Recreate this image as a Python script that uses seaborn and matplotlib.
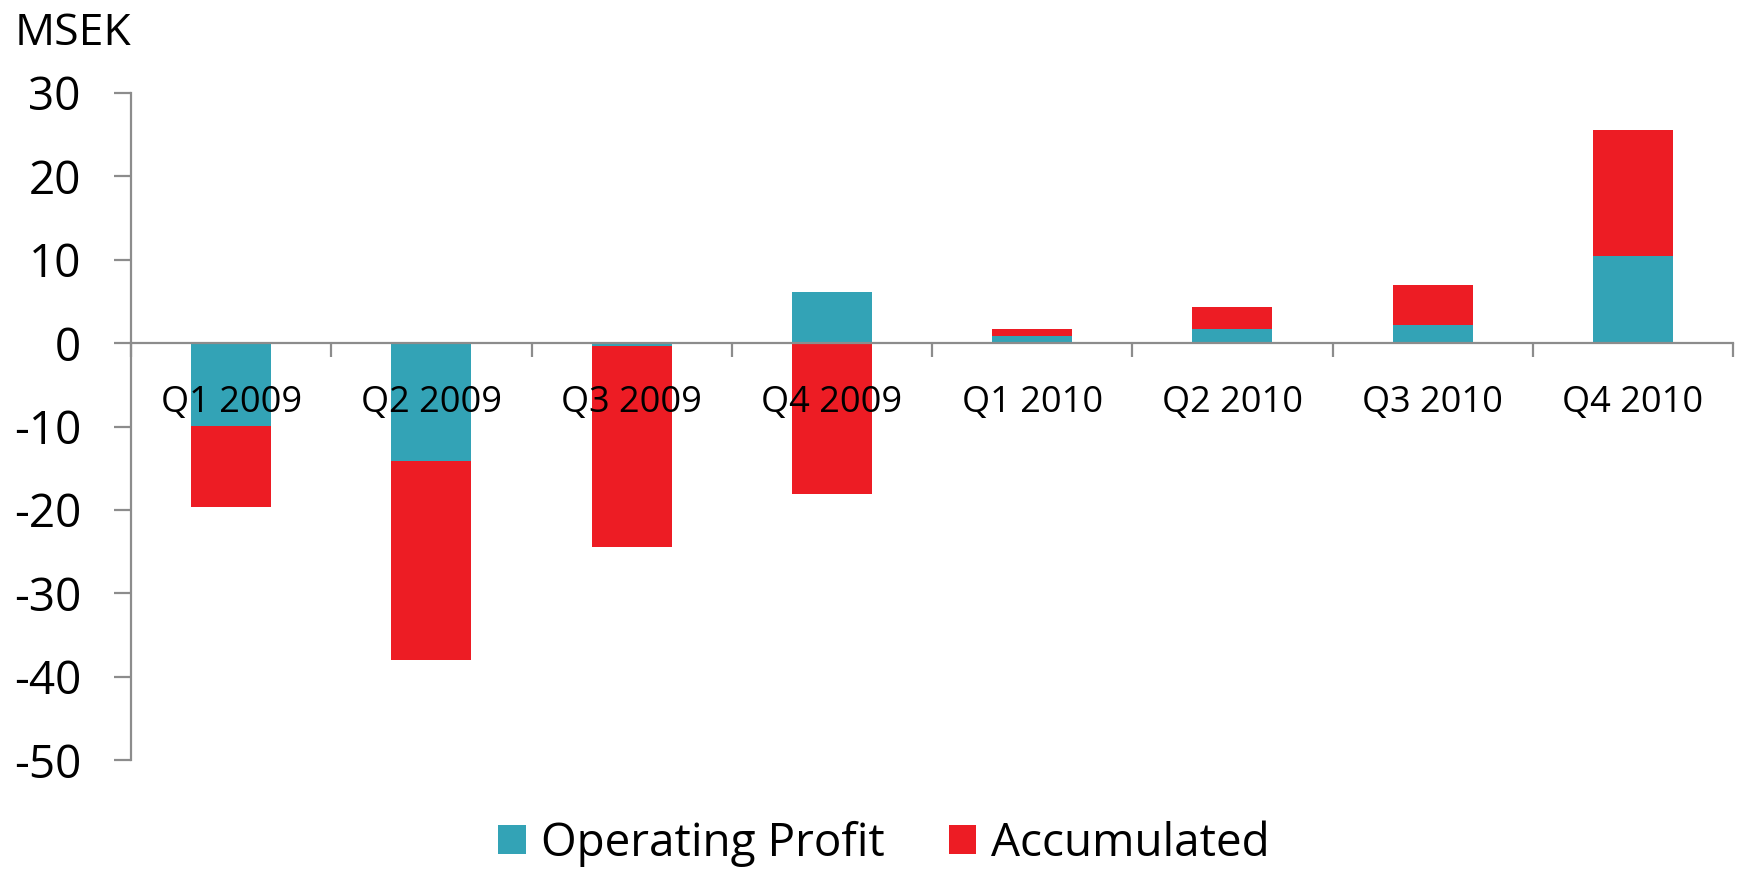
import numpy as np
import pandas as pd
import matplotlib
matplotlib.use("Agg")
import matplotlib.pyplot as plt
from matplotlib.patches import Patch
from matplotlib.ticker import FixedLocator
import seaborn as sns

quarters = ["Q1 2009", "Q2 2009", "Q3 2009", "Q4 2009",
            "Q1 2010", "Q2 2010", "Q3 2010", "Q4 2010"]
operating_profit = [-9.9, -14.1, -0.3, 6.1, 0.9, 1.7, 2.2, 10.4]
accumulated = [-9.8, -23.9, -24.2, -18.1, 0.85, 2.6, 4.8, 15.2]
y_ticks = [-50, -40, -30, -20, -10, 0, 10, 20, 30]

TEAL = "#33A3B6"
RED = "#ED1C24"
GRAY = "#8C8C8C"

sns.set_theme(style="white")
plt.rcParams["font.family"] = ["Open Sans", "DejaVu Sans"]
plt.rcParams["text.color"] = "black"
plt.rcParams["xtick.labelcolor"] = "black"
plt.rcParams["ytick.labelcolor"] = "black"

df = pd.DataFrame({"quarter": quarters,
                   "op": operating_profit,
                   "acc": accumulated})
op = np.array(operating_profit)
acc = np.array(accumulated)
acc_bottom = np.where(np.sign(op) == np.sign(acc), op, 0.0)

fig = plt.figure(figsize=(17.38, 8.75), dpi=100)
ax = fig.add_axes([131 / 1738, 1 - 760 / 875, (1733 - 131) / 1738, (760 - 93) / 875])

sns.barplot(data=df, x="quarter", y="op", color=TEAL, width=0.4,
            saturation=1, ax=ax, linewidth=0, order=quarters, zorder=1)
sns.barplot(data=df, x="quarter", y="acc", color=RED, width=0.4,
            saturation=1, ax=ax, linewidth=0, order=quarters,
            bottom=acc_bottom, zorder=1)
ax.set_axisbelow(False)

ax.set_xlim(-0.5, len(quarters) - 0.5)
ax.set_ylim(-50, 30)
ax.set_yticks(y_ticks)
ax.set_yticklabels([str(v) for v in y_ticks])
ax.set_xlabel("")
ax.set_ylabel("")

for s in ["top", "right"]:
    ax.spines[s].set_visible(False)
ax.spines["bottom"].set_position(("data", 0))
for s in ["left", "bottom"]:
    ax.spines[s].set_color(GRAY)
    ax.spines[s].set_linewidth(1.6)

ax.tick_params(axis="y", which="major", direction="out", length=12, width=1.6,
               color=GRAY, labelsize=33, pad=24, left=True, labelcolor="black")
ax.tick_params(axis="x", which="major", length=0, labelsize=26, pad=30,
               labelcolor="black")
ax.xaxis.set_minor_locator(FixedLocator(np.arange(-0.5, len(quarters), 1.0)))
ax.tick_params(axis="x", which="minor", direction="out", length=10, width=1.6,
               color=GRAY, bottom=True)

fig.text(15 / 1738, 1 - 45 / 875, "MSEK", fontsize=32, va="baseline", ha="left",
         color="black")

handles = [Patch(facecolor=TEAL, edgecolor="none", label="Operating Profit"),
           Patch(facecolor=RED, edgecolor="none", label="Accumulated")]
leg = fig.legend(handles=handles, loc="center", bbox_to_anchor=(884 / 1738, 1 - 844 / 875),
                 ncol=2, frameon=False, fontsize=33, handlelength=0.6, handleheight=0.6,
                 handletextpad=0.33, columnspacing=1.4, borderaxespad=0, borderpad=0)
for t in leg.get_texts():
    t.set_color("black")

fig.savefig("out.png", dpi=100)
